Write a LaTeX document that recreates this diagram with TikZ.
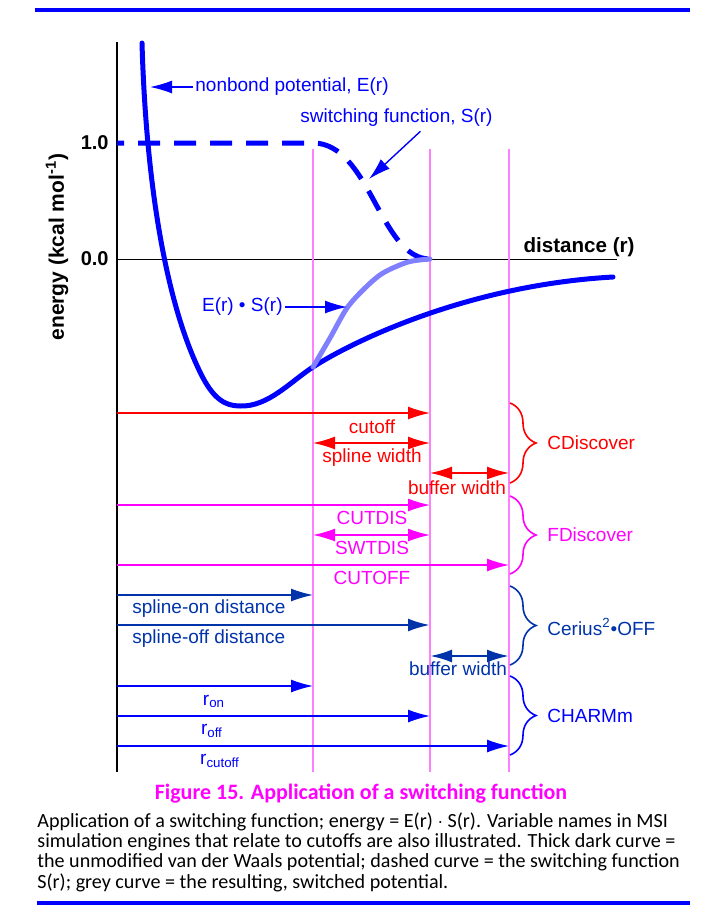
\documentclass[tikz,border=0pt]{standalone}
\usepackage{fontspec}
\setmainfont{Liberation Sans}
\newfontfamily\capfont{Carlito}
\usetikzlibrary{arrows.meta,decorations.pathreplacing}
\definecolor{vline}{RGB}{255,128,255}
\definecolor{fmag}{RGB}{255,0,255}
\definecolor{switched}{RGB}{128,128,255}
\definecolor{cerius}{RGB}{0,51,170}
\tikzset{
  lab/.style={font=\fontsize{9.5}{11}\selectfont, inner sep=1pt},
  ax/.style={font=\bfseries\fontsize{10}{12}\selectfont, inner sep=1pt},
  potential/.style={blue, line width=2.5pt, line cap=round, line join=round},
  switch/.style={blue, line width=2.5pt, dash pattern=on 11pt off 7pt, dash phase=7.5pt},
  cutline/.style={vline, line width=1pt},
  brc/.style={decorate, decoration={brace, amplitude=13pt}, line width=0.8pt},
  thinarrow/.style={line width=0.7pt},
  captext/.style={anchor=base west, inner sep=0pt, font=\capfont\fontsize{10.05}{10}\selectfont},
  >={Latex[length=11pt,width=6.5pt]}
}
\begin{document}
\begin{tikzpicture}[x=0.5pt,y=-0.5pt]
\useasboundingbox (0,0) rectangle (715,923);
% rules at top and bottom
\draw[blue, line width=2.4pt] (35,10) -- (690,10);
\draw[blue, line width=2.4pt] (37,903) -- (690,903);
% axes and their labels
\draw[line width=0.8pt] (117,42) -- (117,772);
\draw[line width=0.5pt] (117,259) -- (617,259);
\node[ax, anchor=east] (one) at (111,143) {1.0};
\node[ax, anchor=east] (zero) at (111,259) {0.0};
\node[ax, anchor=base east, font=\bfseries\fontsize{10.3}{12}\selectfont] (dist) at (637,252) {distance (r)};
\node[ax, rotate=90, font=\bfseries\fontsize{10.5}{12}\selectfont] (energy) at (57,247) {energy (kcal mol\textsuperscript{-1})};
% the three cutoff distances
\foreach \x in {313,430,509}
  \draw[cutline] (\x,149) -- (\x,772);
% nonbond potential, switching function and the product
\draw[potential] (142,43) .. controls (146,180) and (165,300) .. (200,372)
  .. controls (213,399) and (225,406) .. (240,406)
  .. controls (268,407) and (290,382) .. (313,367)
  .. controls (355,340) and (470,285) .. (613,277);
\draw[switch] (117,143) -- (313,143) .. controls (370,143) and (380,259) .. (430,259);
\draw[switched, line width=2.5pt, line cap=round] plot[smooth] coordinates {(313,367) (330,338) (347,308) (365,288) (383,273) (408,262) (430,259)};
% labels of the curves
\node[lab, blue, anchor=west] (nonbond) at (193,87) {nonbond potential, E(r)};
\coordinate (wall) at (150,87);
\draw[blue, thinarrow, ->] (nonbond.west) -- (wall);
\node[lab, blue, anchor=west] (sfun) at (298,118) {switching function, S(r)};
\coordinate (sdrop) at (369,179);
\draw[blue, thinarrow, ->] ([xshift=12pt,yshift=-1pt]sfun.south) -- (sdrop);
\node[lab, blue, anchor=east] (prod) at (285,307) {E(r) • S(r)};
\coordinate (rise) at (347,307);
\draw[blue, thinarrow, ->] (prod.east) -- (rise);
% CDiscover
\draw[red, thinarrow, ->] (117,413) -- (430,413);
\node[lab, red] (cutoff) at (372,427) {cutoff};
\draw[red, thinarrow, <->] (313,443) -- (430,443);
\node[lab, red] (splw) at (372,458) {spline width};
\draw[red, thinarrow, <->] (430,473) -- (509,473);
\node[lab, red] (bufc) at (457,488) {buffer width};
\draw[red, brc] (510,403) -- (510,483);
\node[lab, red, anchor=west] (cdisc) at (545,443) {CDiscover};
% FDiscover
\draw[fmag, thinarrow, ->] (117,505) -- (430,505);
\node[lab, fmag] (cutdis) at (372,518) {CUTDIS};
\draw[fmag, thinarrow, <->] (313,535) -- (430,535);
\node[lab, fmag] (swtdis) at (372,548) {SWTDIS};
\draw[fmag, thinarrow, ->] (117,565) -- (509,565);
\node[lab, fmag] (cutoffF) at (372,578) {CUTOFF};
\draw[fmag, brc] (510,496) -- (510,574);
\node[lab, fmag, anchor=west] (fdisc) at (545,535) {FDiscover};
% Cerius2 OFF
\draw[cerius, thinarrow, ->] (117,595) -- (313,595);
\node[lab, cerius, anchor=west] (splon) at (130,609) {spline-on distance};
\draw[cerius, line width=1.2pt, ->] (117,625) -- (430,625);
\node[lab, cerius, anchor=west] (sploff) at (130,639) {spline-off distance};
\draw[cerius, line width=1.2pt, <->] (430,656) -- (509,656);
\node[lab, cerius] (bufo) at (458,669) {buffer width};
\draw[cerius, brc] (510,586) -- (510,665);
\node[lab, cerius, anchor=west] (cerius) at (545,627) {Cerius\textsuperscript{2}•OFF};
% CHARMm
\foreach \y/\x in {686/313, 716/430, 746/509}
  \draw[blue, thinarrow, ->] (117,\y) -- (\x,\y);
\node[lab, blue] (ron) at (214,701) {r\textsubscript{on}};
\node[lab, blue] (roff) at (212,731) {r\textsubscript{off}};
\node[lab, blue] (rcut) at (220,761) {r\textsubscript{cutoff}};
\draw[blue, brc] (510,676) -- (510,755);
\node[lab, blue, anchor=west] (charmm) at (545,716) {CHARMm};
% caption
\node[anchor=base, fmag, inner sep=0pt, font=\capfont\bfseries\fontsize{11}{13}\selectfont] (title) at (361,799) {Figure 15. Application of a switching function};
\node[captext] (cap1) at (37,827) {Application of a switching function; energy = E(r) $\cdot$ S(r). Variable names in MSI};
\node[captext] (cap2) at (37,847) {simulation engines that relate to cutoffs are also illustrated. Thick dark curve =};
\node[captext] (cap3) at (37,867) {the unmodified van der Waals potential; dashed curve = the switching function};
\node[captext] (cap4) at (37,888) {S(r); grey curve = the resulting, switched potential.};
\end{tikzpicture}
\end{document}
